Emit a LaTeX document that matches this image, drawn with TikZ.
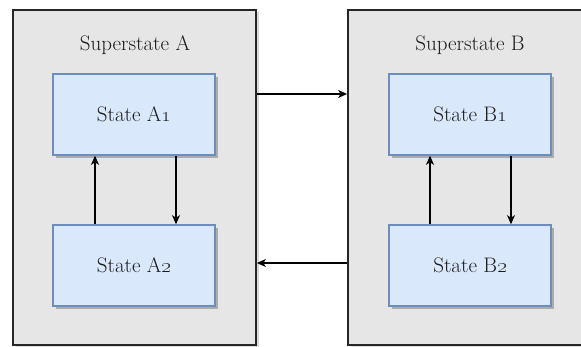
\documentclass[tikz,border=0pt]{standalone}
\usetikzlibrary{arrows.meta,shadows}
\definecolor{superfill}{HTML}{E6E6E6}
\definecolor{superline}{HTML}{262626}
\definecolor{statefill}{HTML}{DAE8FC}
\definecolor{stateline}{HTML}{6C8EBF}
\definecolor{textcol}{HTML}{1A1A1A}
\tikzset{
  superbox/.style={draw=superline, line width=1.8pt, fill=superfill,
    minimum width=243pt, minimum height=335pt, inner sep=0pt,
    drop shadow={shadow xshift=2.5pt, shadow yshift=-2.5pt, fill=black, opacity=0.15}},
  statebox/.style={draw=stateline, line width=1.6pt, fill=statefill,
    minimum width=162pt, minimum height=81pt, inner sep=0pt,
    font=\fontsize{21}{25}\selectfont, text=textcol,
    drop shadow={shadow xshift=3pt, shadow yshift=-3pt, fill=black, opacity=0.25}},
  titletext/.style={font=\fontsize{21}{25}\selectfont, text=textcol, inner sep=0pt},
  arr/.style={draw=black, line width=1.1pt, -{Stealth[length=9pt,width=8pt,inset=2.5pt]}}
}
\begin{document}
\begin{tikzpicture}[x=1pt,y=-1pt]
  \useasboundingbox (0,0) rectangle (581,347);
  \clip (0,0) rectangle (581,347);
  \fill[white] (0,0) rectangle (581,347);

  % superstates
  \node[superbox] (SA) at (134.5,177.5) {};
  \node[superbox] (SB) at (469.5,177.5) {};
  \node[titletext] (TA) at (135,45) {Superstate A};
  \node[titletext] (TB) at (470,45) {Superstate B};

  % inner states
  \node[statebox] (A1) at (134,114.5) {State A\oldstylenums{1}};
  \node[statebox] (A2) at (134,265.5) {State A\oldstylenums{2}};
  \node[statebox] (B1) at (470,114.5) {State B\oldstylenums{1}};
  \node[statebox] (B2) at (470,265.5) {State B\oldstylenums{2}};

  % transitions inside A and B
  \coordinate (au) at (95,0);
  \coordinate (ad) at (176,0);
  \coordinate (bu) at (430,0);
  \coordinate (bd) at (511,0);
  \draw[arr] (A2.north -| au) -- (A1.south -| au);
  \draw[arr] (A1.south -| ad) -- (A2.north -| ad);
  \draw[arr] (B2.north -| bu) -- (B1.south -| bu);
  \draw[arr] (B1.south -| bd) -- (B2.north -| bd);

  % transitions between superstates
  \coordinate (hi) at (0,94);
  \coordinate (lo) at (0,263);
  \draw[arr] (SA.east |- hi) -- (SB.west |- hi);
  \draw[arr] (SB.west |- lo) -- (SA.east |- lo);
\end{tikzpicture}
\end{document}
